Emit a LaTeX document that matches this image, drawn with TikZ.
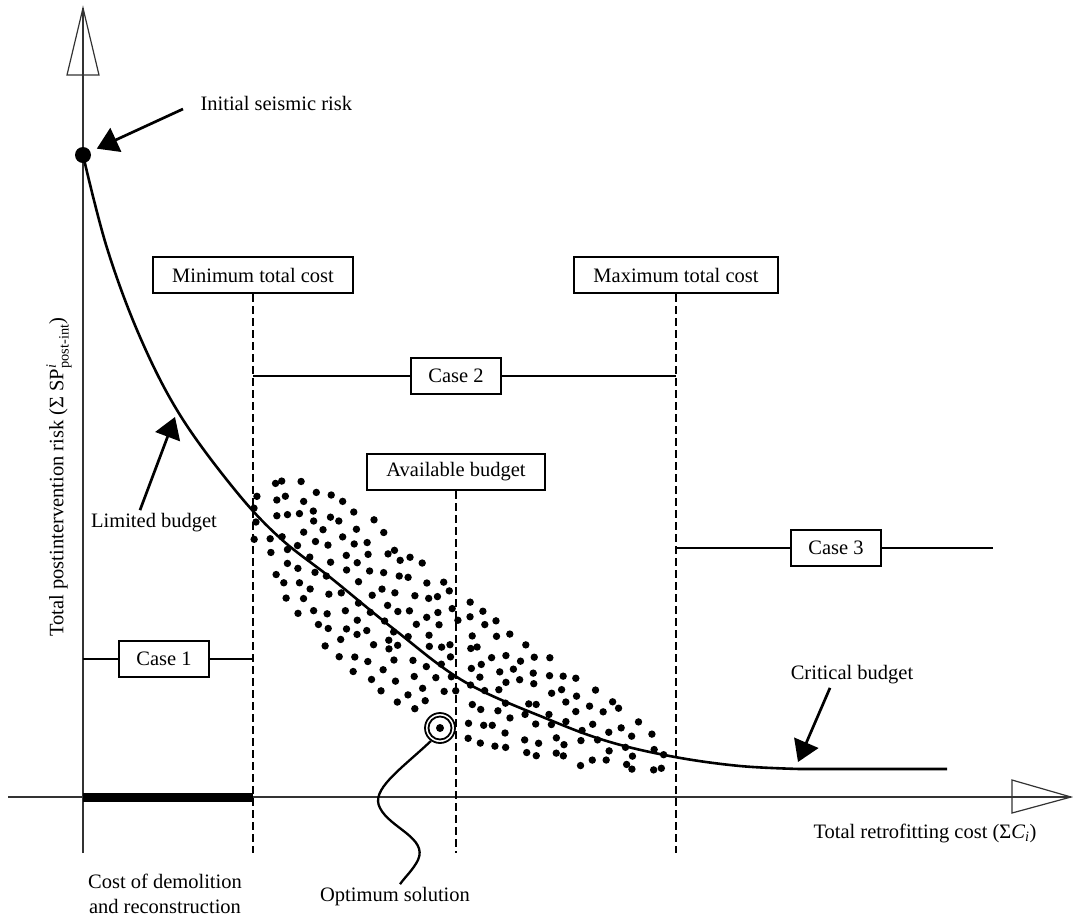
\documentclass[tikz,border=0pt]{standalone}
\usepackage{fontspec}
\setmainfont{Liberation Serif}
\usepackage{amsmath}
\usetikzlibrary{arrows.meta}

\begin{document}
\begin{tikzpicture}
	[x=1pt,y=-1pt,
	every node/.style={font=\fontsize{20.5}{25}\selectfont},
	box/.style={draw, line width=2pt, fill=white, minimum height=36pt,
		inner xsep=19pt, inner ysep=4pt},
	casebox/.style={box, inner xsep=17pt},
	caseline/.style={line width=2pt},
	limit/.style={line width=1.2pt, dash pattern=on 8pt off 4pt},
	axis/.style={line width=1.2pt, draw=black!80},
	pointer/.style={line width=2.7pt, -{Triangle[length=21pt,width=26pt]}},
	ring/.style={circle, draw, line width=1.8pt, inner sep=0pt}]

	\useasboundingbox (0,0) rectangle (1073,919);

	%%axes
	\coordinate (o)    at (83,797);
	\coordinate (ytop) at (83,8);
	\coordinate (ybot) at (83,853);
	\coordinate (xlft) at (8,797);
	\coordinate (xrgt) at (1071,797);
	\draw[axis] (ybot) -- (ytop);
	\draw[axis] (xlft) -- (xrgt);
	\draw[axis] (67,75) -- (ytop) -- (99,75) -- cycle;
	\draw[axis] (1012,780) -- (xrgt) -- (1012,813) -- cycle;

	\node[rotate=90] (ylab) at (59,477)
		{Total postintervention risk (Σ SP$^{\text{\itshape i}}_{\text{post-int}}$)};
	\node (xlab) at (925,833)
		{Total retrofitting cost (Σ\textit{C}$_{\text{\itshape i}}$)};

	%%limits
	\node[box] (minc) at (253,275) {Minimum total cost};
	\node[box] (maxc) at (676,275) {Maximum total cost};
	\node[box] (avb)  at (456,472) {Available budget};
	\coordinate (minb) at (253,853);
	\coordinate (maxb) at (676,853);
	\coordinate (avbb) at (456,853);
	\foreach \from/\to in {minc/minb,maxc/maxb,avb/avbb}
		\draw[limit] (\from) -- (\to);

	%%cases
	\node[casebox] (case1) at (164,659) {Case 1};
	\node[casebox] (case2) at (456,376) {Case 2};
	\node[casebox] (case3) at (836,548) {Case 3};
	\coordinate (c1a) at (83,659);
	\coordinate (c1b) at (253,659);
	\coordinate (c2a) at (253,376);
	\coordinate (c2b) at (676,376);
	\coordinate (c3a) at (676,548);
	\coordinate (c3b) at (993,548);
	\foreach \a/\c/\b in {c1a/case1/c1b,c2a/case2/c2b,c3a/case3/c3b}
		\draw[caseline] (\a) -- (\c) -- (\b);

	%%demolition
	\draw[line width=9pt] (o) -- (c1b |- o);
	\node[align=center, inner sep=1pt] (demol) at (165,894) {Cost of demolition\\and reconstruction};

	%%solutions
	\pgfmathsetseed{4}
	\foreach \xx/\yt/\yb in {258/492/542, 272/483/574, 286/483/602, 300/486/615,
		314/490/629, 328/496/644, 342/503/659, 356/513/670, 370/524/678,
		384/535/688, 398/546/698, 412/557/709, 426/567/717, 440/577/725,
		454/588/731, 468/598/738, 482/610/744, 496/623/747, 510/635/750,
		524/644/754, 538/652/757, 552/661/758, 566/671/760, 580/681/761,
		594/690/763, 608/700/764, 622/710/765, 636/721/767, 650/732/769,
		664/750/771}{
		\pgfmathtruncatemacro\n{max(1,round((\yb-\yt+16)/17))}
		\foreach \j in {1,...,\n}{
			\pgfmathsetmacro\px{\xx+5*rand}
			\pgfmathsetmacro\py{\yt-8+(\j-0.5)*(\yb-\yt+16)/\n+5*rand}
			\pgfmathtruncatemacro\keep{veclen(\px-440,\py-728)>23}
			\ifnum\keep=1 \fill (\px,\py) circle[radius=3.7pt]; \fi
		}
	}

	%%risk curve
	\node[circle, fill, inner sep=0pt, minimum size=16pt] (risk0) at (83,155) {};
	\coordinate (crit) at (947,769);
	\draw[line width=2.6pt] plot[smooth, tension=0.6] coordinates {(83,155) (107,248)
		(140,337) (180,415) (235,490) (280,538) (331,578) (395,630) (465,682)
		(550,720) (610,742) (675,757) (740,766) (800,769)} -- (crit);

	%%optimum
	\node[ring, minimum size=30pt] (opt) at (440,728) {};
	\node[ring, minimum size=23pt] at (opt) {};
	\fill (opt) circle[radius=4pt];
	\node (optl) at (395,897) {Optimum solution};
	\draw[line width=2.3pt] (opt.-125) .. controls (400,770) and (370,790) .. (380,808)
		.. controls (390,828) and (428,838) .. (418,860)
		.. controls (413,870) and (405,877) .. ([xshift=5pt]optl.north);

	%%pointers
	\node[anchor=west] (init) at (197,103) {Initial seismic risk};
	\node (limb)  at (154,523) {Limited budget};
	\node (critb) at (852,675) {Critical budget};
	\coordinate (inita) at (183,109);
	\coordinate (limt)  at (175,417);
	\coordinate (critt) at (798,762);
	\draw[pointer, shorten >=7pt] (inita) -- (risk0);
	\draw[pointer] ([xshift=-14pt]limb.north) -- (limt);
	\draw[pointer] ([xshift=-22pt]critb.south) -- (critt);
\end{tikzpicture}
\end{document}
